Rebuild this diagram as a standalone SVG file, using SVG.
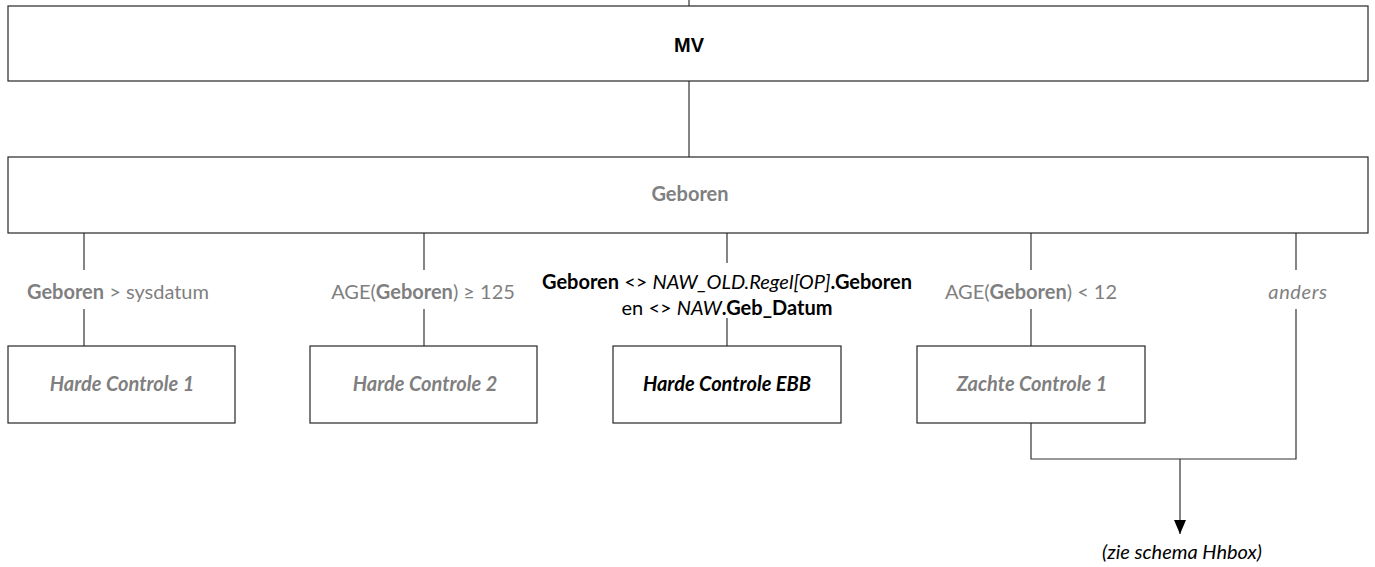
<svg xmlns="http://www.w3.org/2000/svg" width="1375" height="567" viewBox="0 0 1375 567">
<style>
.box{fill:#fff;stroke:#262626;stroke-width:1.2}
.ln{fill:none;stroke:#333;stroke-width:1.2}
.t{font-family:Lato,"Liberation Sans",sans-serif;font-size:20px;text-anchor:middle}
.g{fill:#7f7f7f}
.k{fill:#000}
.b{font-weight:bold}
.i{font-style:italic}
</style>
<defs>
<marker id="arr" viewBox="0 0 14 12" refX="14" refY="6" markerWidth="14" markerHeight="12" markerUnits="userSpaceOnUse" orient="auto">
<path d="M0,0 L14,6 L0,12 z" fill="#000"/>
</marker>
</defs>
<g id="connectors">
<line class="ln" x1="689" y1="0" x2="689" y2="6"/>
<line class="ln" x1="689" y1="81" x2="689" y2="157"/>
<line class="ln" x1="84" y1="233" x2="84" y2="270"/>
<line class="ln" x1="84" y1="309" x2="84" y2="346"/>
<line class="ln" x1="424" y1="233" x2="424" y2="270"/>
<line class="ln" x1="424" y1="309" x2="424" y2="346"/>
<line class="ln" x1="727" y1="233" x2="727" y2="263"/>
<line class="ln" x1="727" y1="318" x2="727" y2="346"/>
<line class="ln" x1="1031" y1="233" x2="1031" y2="270"/>
<line class="ln" x1="1031" y1="309" x2="1031" y2="346"/>
<line class="ln" x1="1296" y1="233" x2="1296" y2="270"/>
<polyline class="ln" points="1031,423 1031,459 1296,459 1296,309"/>
<line class="ln" x1="1180" y1="459" x2="1180" y2="534" marker-end="url(#arr)"/>
</g>
<g id="mv">
<rect class="box" x="8" y="6" width="1360" height="75"/>
<text x="689" y="52" font-family="Liberation Sans,Arial,sans-serif" font-size="20" font-weight="bold" text-anchor="middle" fill="#000">MV</text>
</g>
<g id="geboren">
<rect class="box" x="8" y="157" width="1360" height="76"/>
<text class="t g b" x="690" y="201">Geboren</text>
</g>
<g id="label1">
<text class="t g" x="118" y="299"><tspan class="b">Geboren</tspan> &gt; sysdatum</text>
</g>
<g id="label2">
<text class="t g" x="423" y="299">AGE(<tspan class="b">Geboren</tspan>) ≥ 125</text>
</g>
<g id="label3">
<text class="t k" x="727" y="289"><tspan class="b">Geboren</tspan> &lt;&gt; <tspan class="i">NAW_OLD.Regel[OP]</tspan><tspan class="b">.Geboren</tspan></text>
<text class="t k" x="727" y="315">en &lt;&gt; <tspan class="i">NAW</tspan><tspan class="b">.Geb_Datum</tspan></text>
</g>
<g id="label4">
<text class="t g" x="1031" y="299">AGE(<tspan class="b">Geboren</tspan>) &lt; 12</text>
</g>
<g id="label5">
<text class="t g i" x="1298" y="299" letter-spacing="0.6">anders</text>
</g>
<g id="hc1">
<rect class="box" x="8" y="346" width="227" height="77"/>
<text class="t g b i" x="122" y="391">Harde Controle 1</text>
</g>
<g id="hc2">
<rect class="box" x="310" y="346" width="227" height="77"/>
<text class="t g b i" x="425" y="391">Harde Controle 2</text>
</g>
<g id="hcebb">
<rect class="box" x="613" y="346" width="228" height="77"/>
<text class="t k b i" x="727" y="391">Harde Controle EBB</text>
</g>
<g id="zc1">
<rect class="box" x="917" y="346" width="228" height="77"/>
<text class="t g b i" x="1032" y="391">Zachte Controle 1</text>
</g>
<g id="zie">
<text class="t k i" x="1182" y="559" font-size="19">(zie schema Hhbox)</text>
</g>
</svg>
